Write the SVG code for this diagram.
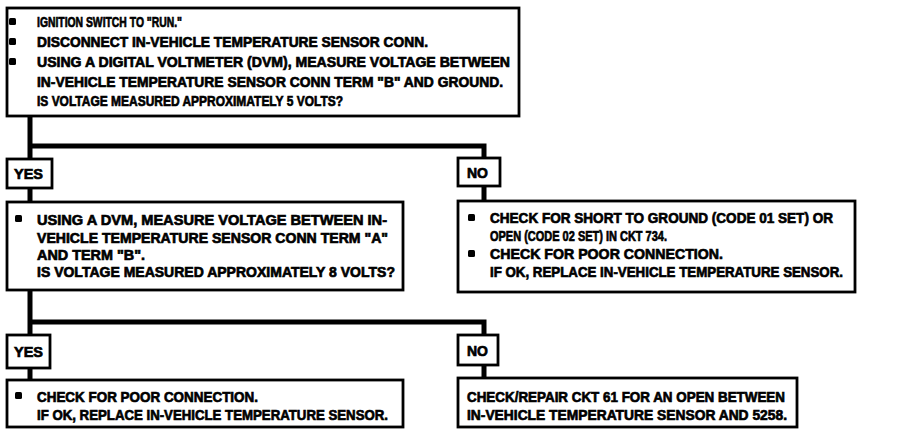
<svg xmlns="http://www.w3.org/2000/svg" width="912" height="434" viewBox="0 0 912 434">
<style>
.box{fill:#fff;stroke:#000;stroke-width:2.8}
.t{font-family:"Liberation Sans",Arial,sans-serif;font-weight:bold;font-size:15px;fill:#000;stroke:#000;stroke-width:0.7}
.c{fill:none;stroke:#000;stroke-width:5}
.b{fill:#000}
</style>
<rect width="912" height="434" fill="#fff"/>
<g id="connectors">
<path class="c" d="M30,116 V380"/>
<path class="c" d="M30,146 H484 V200"/>
<path class="c" d="M30,322 H484 V378"/>
</g>
<g id="start">
<rect class="box" x="7" y="8" width="512" height="108"/>
<rect class="b" x="9" y="18" width="7" height="7" rx="1.5"/>
<rect class="b" x="9" y="38" width="7" height="7" rx="1.5"/>
<rect class="b" x="9" y="58" width="7" height="7" rx="1.5"/>
<text class="t" x="37" y="27" textLength="145" lengthAdjust="spacingAndGlyphs">IGNITION SWITCH TO "RUN."</text>
<text class="t" x="37" y="47" textLength="391" lengthAdjust="spacingAndGlyphs">DISCONNECT IN-VEHICLE TEMPERATURE SENSOR CONN.</text>
<text class="t" x="37" y="67" textLength="473" lengthAdjust="spacingAndGlyphs">USING A DIGITAL VOLTMETER (DVM), MEASURE VOLTAGE BETWEEN</text>
<text class="t" x="37" y="87" textLength="466" lengthAdjust="spacingAndGlyphs">IN-VEHICLE TEMPERATURE SENSOR CONN TERM "B" AND GROUND.</text>
<text class="t" x="37" y="106" textLength="306" lengthAdjust="spacingAndGlyphs">IS VOLTAGE MEASURED APPROXIMATELY 5 VOLTS?</text>
</g>
<g id="yes1">
<rect class="box" x="7" y="159" width="45" height="29"/>
<text class="t" x="14" y="179" textLength="29" lengthAdjust="spacingAndGlyphs">YES</text>
</g>
<g id="no1">
<rect class="box" x="458" y="158" width="42" height="28"/>
<text class="t" x="467" y="178" textLength="21" lengthAdjust="spacingAndGlyphs">NO</text>
</g>
<g id="measure2">
<rect class="box" x="7" y="202" width="396" height="88"/>
<rect class="b" x="15" y="215" width="7" height="7" rx="1.5"/>
<text class="t" x="37" y="225" textLength="350" lengthAdjust="spacingAndGlyphs">USING A DVM, MEASURE VOLTAGE BETWEEN IN-</text>
<text class="t" x="37" y="243" textLength="351" lengthAdjust="spacingAndGlyphs">VEHICLE TEMPERATURE SENSOR CONN TERM "A"</text>
<text class="t" x="37" y="260" textLength="108" lengthAdjust="spacingAndGlyphs">AND TERM "B".</text>
<text class="t" x="37" y="277" textLength="358" lengthAdjust="spacingAndGlyphs">IS VOLTAGE MEASURED APPROXIMATELY 8 VOLTS?</text>
</g>
<g id="shortcheck">
<rect class="box" x="458" y="201" width="397" height="91"/>
<rect class="b" x="468" y="214" width="7" height="7" rx="1.5"/>
<rect class="b" x="468" y="250" width="7" height="7" rx="1.5"/>
<text class="t" x="490" y="223" textLength="343" lengthAdjust="spacingAndGlyphs">CHECK FOR SHORT TO GROUND (CODE 01 SET) OR</text>
<text class="t" x="490" y="241" textLength="177" lengthAdjust="spacingAndGlyphs">OPEN (CODE 02 SET) IN CKT 734.</text>
<text class="t" x="490" y="259" textLength="233" lengthAdjust="spacingAndGlyphs">CHECK FOR POOR CONNECTION.</text>
<text class="t" x="490" y="277" textLength="353" lengthAdjust="spacingAndGlyphs">IF OK, REPLACE IN-VEHICLE TEMPERATURE SENSOR.</text>
</g>
<g id="yes2">
<rect class="box" x="7" y="335" width="43" height="33"/>
<text class="t" x="14" y="357" textLength="29" lengthAdjust="spacingAndGlyphs">YES</text>
</g>
<g id="no2">
<rect class="box" x="458" y="335" width="40" height="30"/>
<text class="t" x="467" y="356" textLength="21" lengthAdjust="spacingAndGlyphs">NO</text>
</g>
<g id="replace">
<rect class="box" x="7" y="380" width="396" height="47"/>
<rect class="b" x="15" y="392" width="7" height="7" rx="1.5"/>
<text class="t" x="37" y="402" textLength="221" lengthAdjust="spacingAndGlyphs">CHECK FOR POOR CONNECTION.</text>
<text class="t" x="37" y="420" textLength="351" lengthAdjust="spacingAndGlyphs">IF OK, REPLACE IN-VEHICLE TEMPERATURE SENSOR.</text>
</g>
<g id="repair">
<rect class="box" x="458" y="378" width="339" height="49"/>
<text class="t" x="467" y="402" textLength="318" lengthAdjust="spacingAndGlyphs">CHECK/REPAIR CKT 61 FOR AN OPEN BETWEEN</text>
<text class="t" x="467" y="420" textLength="320" lengthAdjust="spacingAndGlyphs">IN-VEHICLE TEMPERATURE SENSOR AND 5258.</text>
</g>
</svg>
